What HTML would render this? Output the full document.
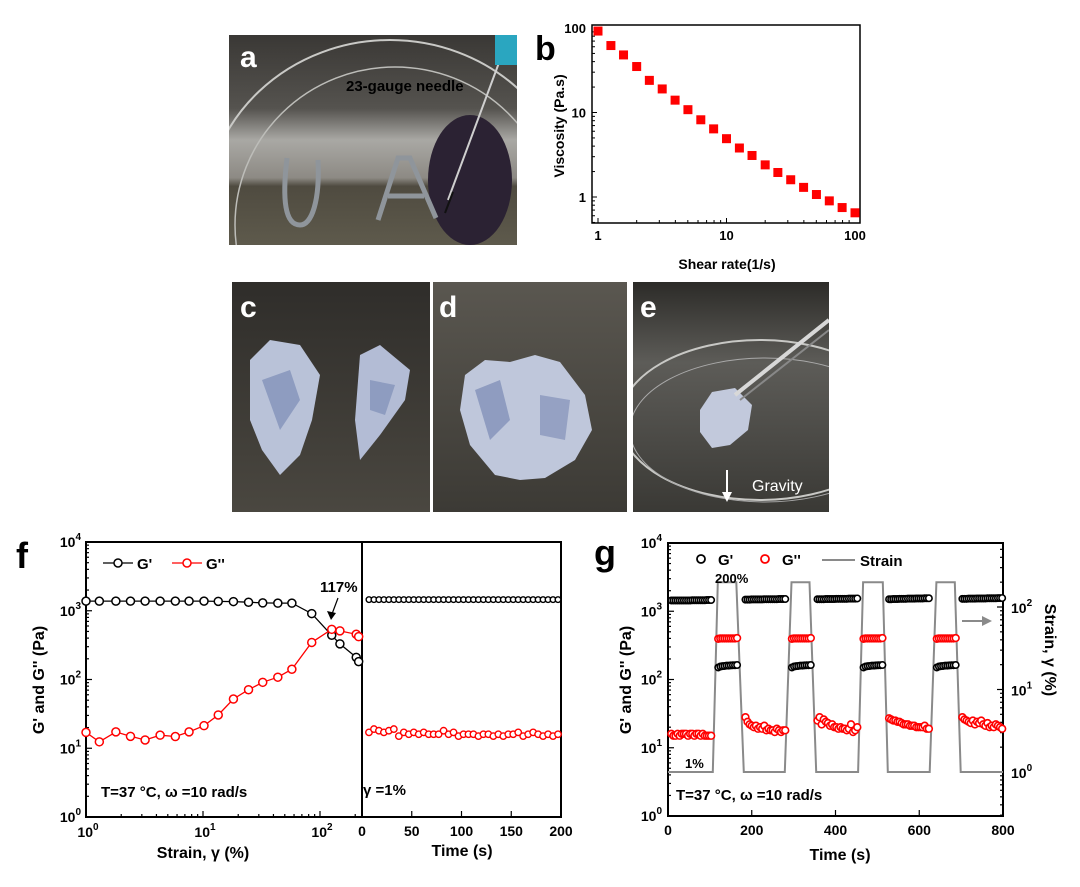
<!DOCTYPE html>
<html><head><meta charset="utf-8"><style>
html,body{margin:0;padding:0;background:#fff}
svg{display:block}
text{font-family:"Liberation Sans",Arial,sans-serif}
</style></head><body>
<svg id="fig" width="1080" height="887" viewBox="0 0 1080 887" xmlns="http://www.w3.org/2000/svg">
<defs>
<linearGradient id="gA" x1="0" y1="0" x2="0" y2="1">
<stop offset="0" stop-color="#3a3835"/><stop offset="0.35" stop-color="#55534f"/><stop offset="0.5" stop-color="#a9a8a4"/><stop offset="0.68" stop-color="#8d8a84"/><stop offset="0.72" stop-color="#4f4b40"/><stop offset="1" stop-color="#5e5a4c"/>
</linearGradient>
<linearGradient id="gC" x1="0" y1="0" x2="0" y2="1"><stop offset="0" stop-color="#2f2d2a"/><stop offset="1" stop-color="#4a4740"/></linearGradient>
<linearGradient id="gD" x1="0" y1="0" x2="0" y2="1"><stop offset="0" stop-color="#5a5750"/><stop offset="1" stop-color="#3c3a35"/></linearGradient>
<linearGradient id="gE" x1="0" y1="0" x2="0" y2="1"><stop offset="0" stop-color="#2c2b28"/><stop offset="0.35" stop-color="#5d5c58"/><stop offset="1" stop-color="#3a3935"/></linearGradient>
<clipPath id="clipA"><rect x="229" y="35" width="288" height="210"/></clipPath>
<clipPath id="clipE"><rect x="633" y="282" width="196" height="230"/></clipPath>
</defs>

<!-- Panel a photo -->
<g clip-path="url(#clipA)">
<rect x="229" y="35" width="288" height="210" fill="url(#gA)"/>
<ellipse cx="390" cy="215" rx="185" ry="175" fill="none" stroke="#c9c9c6" stroke-width="2"/>
<ellipse cx="395" cy="225" rx="160" ry="158" fill="none" stroke="#bdbdb9" stroke-width="1.5"/>
<ellipse cx="470" cy="180" rx="42" ry="65" fill="#2b2233"/>
<path d="M287 158 C282 200,285 225,300 225 C312 225,320 200,318 160" fill="none" stroke="#8f959b" stroke-width="5"/>
<path d="M378 220 L398 158 L410 158 L436 218 M388 196 L424 196" fill="none" stroke="#8f959b" stroke-width="5"/>
<line x1="500" y1="60" x2="448" y2="200" stroke="#cfcfcf" stroke-width="2"/>
<line x1="453" y1="192" x2="445" y2="213" stroke="#111" stroke-width="2"/>
<rect x="495" y="35" width="22" height="30" fill="#2aa6c0"/>
<text x="240" y="67" font-size="30" font-weight="bold" fill="#fff">a</text>
<text x="346" y="91" font-size="15" font-weight="bold" fill="#000">23-gauge needle</text>
</g>

<!-- Panel c, d, e photos -->
<g>
<rect x="232" y="282" width="198" height="230" fill="url(#gC)"/>
<path d="M250 360 L270 340 L300 345 L320 375 L312 420 L300 455 L280 475 L262 450 L250 420 Z" fill="#b9c2d8"/>
<path d="M360 355 L380 345 L410 370 L405 400 L380 435 L360 460 L355 420 Z" fill="#b3bcd5"/>
<path d="M262 380 L290 370 L300 400 L280 430 Z" fill="#8e9cc0"/>
<path d="M370 380 L395 385 L385 415 L370 410 Z" fill="#8e9cc0"/>
<text x="240" y="317" font-size="30" font-weight="bold" fill="#fff">c</text>
</g>
<g>
<rect x="433" y="282" width="194" height="230" fill="url(#gD)"/>
<path d="M465 375 L485 360 L510 362 L535 355 L560 362 L585 395 L592 430 L575 460 L545 478 L520 480 L495 475 L470 445 L460 410 Z" fill="#bfc7db"/>
<path d="M475 390 L500 380 L510 420 L490 440 Z" fill="#8f9cc0"/>
<path d="M540 395 L570 400 L565 440 L540 435 Z" fill="#95a1c3"/>
<text x="439" y="317" font-size="30" font-weight="bold" fill="#fff">d</text>
</g>
<g clip-path="url(#clipE)">
<rect x="633" y="282" width="196" height="230" fill="url(#gE)"/>
<ellipse cx="760" cy="420" rx="140" ry="80" fill="none" stroke="#c8c8c5" stroke-width="2"/>
<ellipse cx="765" cy="430" rx="135" ry="72" fill="none" stroke="#aaa" stroke-width="1"/>
<path d="M700 410 L712 392 L735 388 L752 405 L748 430 L730 445 L712 448 L700 432 Z" fill="#c2c9dc"/>
<line x1="735" y1="395" x2="829" y2="320" stroke="#d8d8d8" stroke-width="4"/>
<line x1="740" y1="400" x2="829" y2="330" stroke="#888" stroke-width="2"/>
<line x1="727" y1="470" x2="727" y2="495" stroke="#fff" stroke-width="2"/>
<path d="M722 492 L727 502 L732 492 Z" fill="#fff"/>
<text x="752" y="491" font-size="16" fill="#fff">Gravity</text>
<text x="640" y="317" font-size="30" font-weight="bold" fill="#fff">e</text>
</g>

<g id="chartB"></g>
<g id="chartF"></g>
<g id="chartG"></g>
</svg>
<script>
// ---- Panel b data ----
const shearRates = [1,1.26,1.58,2,2.51,3.16,3.98,5.01,6.31,7.94,10,12.6,15.8,20,25.1,31.6,39.8,50.1,63.1,79.4,100];
const viscosity = [92,62,48,35,24,19,14,10.8,8.2,6.4,4.9,3.8,3.1,2.4,1.95,1.6,1.3,1.07,0.9,0.75,0.65];
const bXTicks = [1,10,100];
const bYTicks = [1,10,100];

// ---- Panel f data ----
const fStrain = [1.0,1.3,1.8,2.4,3.2,4.3,5.8,7.6,10.2,13.5,18.2,24.5,32.4,43.6,57.5,85,126,148,204,214];
const fStorage = [1380,1380,1380,1380,1380,1380,1380,1380,1380,1370,1360,1330,1300,1290,1290,910,440,330,210,182];
const fLoss = [17,12.4,17.3,14.9,13.2,15.5,14.8,17.3,21.3,30.5,52,71,91,108,141,346,537,510,455,420];
const fTime = [7,12,17,22,27,32,37,42,47,52,57,62,67,72,77,82,87,92,97,102,107,112,117,122,127,132,137,142,147,152,157,162,167,172,177,182,187,192,197];
const fTimeStorage = [1450,1450,1450,1450,1450,1450,1450,1450,1450,1450,1450,1450,1450,1450,1450,1450,1450,1450,1450,1450,1450,1450,1450,1450,1450,1450,1450,1450,1450,1450,1450,1450,1450,1450,1450,1450,1450,1450,1450];
const fTimeLoss = [17,19,18,17,18,19,15,17,16,17,16,17,16,16,16,18,16,17,15,16,16,16,15,16,16,15,16,15,16,16,17,15,16,17,16,15,16,15,16];
const fYTicks = [1,10,100,1000,10000];
const fYExp = ['0','1','2','3','4'];
const fTimeTicks = [0,50,100,150,200];

// ---- Panel g data ----
const gTime = [8,13,18,23,28,33,38,43,48,53,58,63,68,73,78,83,88,93,98,103,
 120,125,130,135,140,145,150,155,160,165,
 185,190,195,200,205,210,215,220,225,230,235,240,245,250,255,260,265,270,275,280,
 296,301,306,311,316,321,326,331,336,341,
 357,362,367,372,377,382,387,392,397,402,407,412,417,422,427,432,437,442,447,452,
 467,472,477,482,487,492,497,502,507,512,
 528,533,538,543,548,553,558,563,568,573,578,583,588,593,598,603,608,613,618,623,
 642,647,652,657,662,667,672,677,682,687,
 703,708,713,718,723,728,733,738,743,748,753,758,763,768,773,778,783,788,793,798];
const gStorage = [1440,1440,1440,1440,1440,1440,1440,1440,1440,1440,1450,1450,1450,1450,1450,1450,1450,1460,1460,1460,
 150,155,157,158,160,160,161,162,162,163,
 1480,1480,1480,1490,1490,1490,1490,1490,1490,1500,1500,1500,1500,1500,1500,1500,1510,1510,1510,1510,
 150,155,157,158,160,160,161,162,162,163,
 1500,1500,1500,1500,1510,1510,1510,1510,1510,1520,1520,1520,1520,1520,1520,1530,1530,1530,1530,1540,
 150,155,157,158,160,160,161,162,162,163,
 1500,1500,1510,1510,1510,1520,1520,1520,1520,1530,1530,1530,1530,1540,1540,1540,1540,1550,1550,1550,
 150,155,157,158,160,160,161,162,162,163,
 1520,1520,1520,1530,1530,1530,1530,1540,1540,1540,1540,1540,1550,1550,1550,1550,1550,1560,1560,1560];
const gLoss = [16,15,15,16,15,16,16,16,15,16,16,15,16,16,15,16,15,15,15,15,
 395,400,400,400,400,400,400,400,400,405,
 28,24,22,21,20,21,19,20,19,21,18,19,18,18,17,19,18,17,18,18,
 395,400,400,400,400,400,400,400,400,405,
 25,28,22,26,24,23,21,22,20,20,19,20,19,19,18,19,22,17,18,20,
 395,400,400,400,400,400,400,400,400,405,
 27,26,25,25,24,24,23,22,22,22,21,21,21,20,20,20,20,21,19,19,
 395,400,400,400,400,400,400,400,400,405,
 28,26,25,24,23,25,22,24,23,25,22,21,23,20,21,20,22,21,20,19];
const strainTime = [0,107,119,163,181,279,295,338,354,454,466,513,525,625,641,685,699,800];
const strainVal = [1,1,200,200,1,1,200,200,1,1,200,200,1,1,200,200,1,1];
const gTimeTicks = [0,200,400,600,800];
const gRightTicks = [1,10,100];

const NS = 'http://www.w3.org/2000/svg';
function mk(parent, tag, attrs, txt){
  const e = document.createElementNS(NS, tag);
  for (const k in attrs) e.setAttribute(k, attrs[k]);
  if (txt !== undefined) e.textContent = txt;
  parent.appendChild(e);
  return e;
}
const lg = Math.log10;
const B = 'bold';

// ===== Panel b =====
(function(){
  const g = document.getElementById('chartB');
  const xb = r => 598 + lg(r)*128.5;
  const yb = v => 197 - lg(v)*84.5;
  const fr = mk(g,'rect',{x:592,y:25,width:268,height:198,fill:'none',stroke:'#000','stroke-width':1.5});
  
  
  for (let d=0; d<2; d++) for (let m=1; m<10; m++){
    const v = Math.pow(10,d)*m;
    const len = m===1?5:3;
    mk(g,'line',{x1:xb(v),x2:xb(v),y1:223,y2:223-len,stroke:'#000','stroke-width':1});
  }
  for (let d=-1; d<2; d++) for (let m=1; m<10; m++){
    const v = Math.pow(10,d)*m; const y = yb(v);
    if (y<25||y>223) continue;
    mk(g,'line',{x1:592,x2:592+(m===1?5:3),y1:y,y2:y,stroke:'#000','stroke-width':1});
  }
  bXTicks.forEach(t=>{
    const e = mk(g,'text',{x:xb(t),y:240,'font-size':13,'font-weight':B,'text-anchor':'middle'},String(t));
    
    
  });
  bYTicks.forEach(t=>{
    const e = mk(g,'text',{x:586,y:yb(t)+5,'font-size':13,'font-weight':B,'text-anchor':'end'},String(t));
    
    
  });
  shearRates.forEach((r,i)=>{
    const e = mk(g,'rect',{x:xb(r)-4.5,y:yb(viscosity[i])-4.5,width:9,height:9,fill:'#f00'});
    
    
  });
  let e = mk(g,'text',{x:727,y:269,'font-size':14,'font-weight':B,'text-anchor':'middle'},'Shear rate(1/s)');
   
  e = mk(g,'text',{x:0,y:0,'font-size':14,'font-weight':B,'text-anchor':'middle',transform:'translate(564,126) rotate(-90)'},'Viscosity (Pa.s)');
   
  e = mk(g,'text',{x:535,y:60,'font-size':34,'font-weight':B},'b');
   
})();

function powLabel(g, x, y, exp, anchor){
  const t = mk(g,'text',{x:x,y:y,'font-size':14,'font-weight':B,'text-anchor':anchor||'end'});
  mk(t,'tspan',{},'10');
  mk(t,'tspan',{dy:-7,'font-size':10},exp);
  return t;
}

// ===== Panel f =====
(function(){
  const g = document.getElementById('chartF');
  const L=86, R=561, T=542, Bt=817, D=362;
  const yF = v => Bt - lg(v)*68.75;
  const xS = s => L + lg(s)*117;
  const xT = t => D + t*(R-D)/200;
  const fr = mk(g,'rect',{x:L,y:T,width:R-L,height:Bt-T,fill:'none',stroke:'#000','stroke-width':2});
   
  mk(g,'line',{x1:D,x2:D,y1:T,y2:Bt,stroke:'#000','stroke-width':2});
  for (let d=0; d<4; d++) for (let m=1; m<10; m++){
    const y = yF(Math.pow(10,d)*m);
    mk(g,'line',{x1:L,x2:L+(m===1?6:3),y1:y,y2:y,stroke:'#000','stroke-width':1.2});
  }
  for (let d=0; d<3; d++) for (let m=1; m<10; m++){
    const x = xS(Math.pow(10,d)*m);
    if (x>D) continue;
    mk(g,'line',{x1:x,x2:x,y1:Bt,y2:Bt-(m===1?6:3),stroke:'#000','stroke-width':1.2});
  }
  fYTicks.forEach((t,i)=>{
    const e = powLabel(g, L-5, yF(t)+5, fYExp[i]);
     
  });
  [1,10,100].forEach((t,i)=>{
    const e = powLabel(g, xS(t)+2, 837, String(i), 'middle');
     
  });
  fTimeTicks.forEach(t=>{
    mk(g,'line',{x1:xT(t),x2:xT(t),y1:Bt,y2:Bt-6,stroke:'#000','stroke-width':1.2});
    const e = mk(g,'text',{x:xT(t),y:836,'font-size':14,'font-weight':B,'text-anchor':'middle'},String(t));
     
  });
  const pl = (xs, ys) => xs.map((x,i)=>x.toFixed(1)+','+ys[i].toFixed(1)).join(' ');
  let e = mk(g,'polyline',{points:pl(fStrain.map(xS), fStorage.map(yF)),fill:'none',stroke:'#000','stroke-width':1.3});
   
  e = mk(g,'polyline',{points:pl(fStrain.map(xS), fLoss.map(yF)),fill:'none',stroke:'#f00','stroke-width':1.3});
   
  fStrain.forEach((s,i)=>{
    let c = mk(g,'circle',{cx:xS(s),cy:yF(fStorage[i]),r:4,fill:'#fff',stroke:'#000','stroke-width':1.5});
     
    c = mk(g,'circle',{cx:xS(s),cy:yF(fLoss[i]),r:4,fill:'#fff',stroke:'#f00','stroke-width':1.5});
     
  });
  fTime.forEach((t,i)=>{
    let c = mk(g,'circle',{cx:xT(t),cy:yF(fTimeStorage[i]),r:2.8,fill:'#fff',stroke:'#000','stroke-width':1.4});
     
    c = mk(g,'circle',{cx:xT(t),cy:yF(fTimeLoss[i]),r:3.2,fill:'#fff',stroke:'#f00','stroke-width':1.4});
     
  });
  mk(g,'line',{x1:103,x2:133,y1:563,y2:563,stroke:'#000','stroke-width':1.3});
  e = mk(g,'circle',{cx:118,cy:563,r:4,fill:'#fff',stroke:'#000','stroke-width':1.5});
   
  e = mk(g,'text',{x:137,y:569,'font-size':15,'font-weight':B},"G'");
   
  mk(g,'line',{x1:172,x2:202,y1:563,y2:563,stroke:'#f00','stroke-width':1.3});
  e = mk(g,'circle',{cx:187,cy:563,r:4,fill:'#fff',stroke:'#f00','stroke-width':1.5});
   
  e = mk(g,'text',{x:206,y:569,'font-size':15,'font-weight':B},"G''");
   
  e = mk(g,'text',{x:320,y:592,'font-size':15,'font-weight':B},'117%');
   
  mk(g,'line',{x1:338,x2:332,y1:598,y2:614,stroke:'#000','stroke-width':1.2});
  mk(g,'path',{d:'M327 611 L331 620 L336 613 Z',fill:'#000'});
  e = mk(g,'text',{x:101,y:797,'font-size':15,'font-weight':B},'T=37 °C, ω =10 rad/s');
   
  e = mk(g,'text',{x:363,y:795,'font-size':15,'font-weight':B},'γ =1%');
   
  e = mk(g,'text',{x:203,y:858,'font-size':16,'font-weight':B,'text-anchor':'middle'},'Strain, γ (%)');
   
  e = mk(g,'text',{x:462,y:856,'font-size':16,'font-weight':B,'text-anchor':'middle'},'Time (s)');
   
  e = mk(g,'text',{x:0,y:0,'font-size':16,'font-weight':B,'text-anchor':'middle',transform:'translate(44,680) rotate(-90)'},"G' and G'' (Pa)");
   
  e = mk(g,'text',{x:16,y:568,'font-size':36,'font-weight':B},'f');
   
})();

// ===== Panel g =====
(function(){
  const g = document.getElementById('chartG');
  const L=668, R=1003, T=543, Bt=816;
  const yG = v => Bt - lg(v)*68.25;
  const xg = t => L + t*(R-L)/800;
  const yS = s => 772 - lg(s)*82.5;
  const fr = mk(g,'rect',{x:L,y:T,width:R-L,height:Bt-T,fill:'none',stroke:'#000','stroke-width':2});
   
  for (let d=0; d<4; d++) for (let m=1; m<10; m++){
    const y = yG(Math.pow(10,d)*m);
    mk(g,'line',{x1:L,x2:L+(m===1?6:3),y1:y,y2:y,stroke:'#000','stroke-width':1.2});
  }
  for (let d=-1; d<3; d++) for (let m=1; m<10; m++){
    const y = yS(Math.pow(10,d)*m);
    if (y<T||y>Bt) continue;
    mk(g,'line',{x1:R,x2:R-(m===1?6:3),y1:y,y2:y,stroke:'#000','stroke-width':1.2});
  }
  fYTicks.forEach((t,i)=>{
    const e = powLabel(g, L-6, yG(t)+5, fYExp[i]);
     
  });
  gRightTicks.forEach((t,i)=>{
    const e = powLabel(g, R+8, yS(t)+6, String(i), 'start');
     
  });
  gTimeTicks.forEach(t=>{
    mk(g,'line',{x1:xg(t),x2:xg(t),y1:Bt,y2:Bt-6,stroke:'#000','stroke-width':1.2});
    const e = mk(g,'text',{x:xg(t),y:835,'font-size':14,'font-weight':B,'text-anchor':'middle'},String(t));
     
  });
  let e = mk(g,'polyline',{points:strainTime.map((t,i)=>xg(t).toFixed(1)+','+yS(strainVal[i]).toFixed(1)).join(' '),fill:'none',stroke:'#8a8a8a','stroke-width':2});
   
  gTime.forEach((t,i)=>{
    let c = mk(g,'circle',{cx:xg(t),cy:yG(gStorage[i]),r:3.2,fill:'#fff',stroke:'#000','stroke-width':1.6});
     
    c = mk(g,'circle',{cx:xg(t),cy:yG(gLoss[i]),r:3.4,fill:'#fff',stroke:'#f00','stroke-width':1.6});
     
  });
  e = mk(g,'circle',{cx:701,cy:559,r:4,fill:'#fff',stroke:'#000','stroke-width':1.8});
   
  e = mk(g,'text',{x:718,y:565,'font-size':15,'font-weight':B},"G'");
   
  e = mk(g,'circle',{cx:765,cy:559,r:4,fill:'#fff',stroke:'#f00','stroke-width':1.8});
   
  e = mk(g,'text',{x:782,y:565,'font-size':15,'font-weight':B},"G''");
   
  mk(g,'line',{x1:822,x2:855,y1:560,y2:560,stroke:'#8a8a8a','stroke-width':2});
  e = mk(g,'text',{x:860,y:566,'font-size':15,'font-weight':B},'Strain');
   
  e = mk(g,'text',{x:715,y:583,'font-size':13,'font-weight':B},'200%');
   
  e = mk(g,'text',{x:685,y:768,'font-size':13,'font-weight':B},'1%');
   
  e = mk(g,'text',{x:676,y:800,'font-size':15,'font-weight':B},'T=37 °C, ω =10 rad/s');
   
  mk(g,'line',{x1:962,x2:984,y1:621,y2:621,stroke:'#8a8a8a','stroke-width':2});
  mk(g,'path',{d:'M982 616 L992 621 L982 626 Z',fill:'#8a8a8a'});
  e = mk(g,'text',{x:840,y:860,'font-size':16,'font-weight':B,'text-anchor':'middle'},'Time (s)');
   
  e = mk(g,'text',{x:0,y:0,'font-size':16,'font-weight':B,'text-anchor':'middle',transform:'translate(631,680) rotate(-90)'},"G' and G'' (Pa)");
   
  e = mk(g,'text',{x:0,y:0,'font-size':16,'font-weight':B,'text-anchor':'middle',transform:'translate(1045,650) rotate(90)'},'Strain, γ (%)');
   
  e = mk(g,'text',{x:594,y:565,'font-size':36,'font-weight':B},'g');
   
})();
</script>
</body></html>
